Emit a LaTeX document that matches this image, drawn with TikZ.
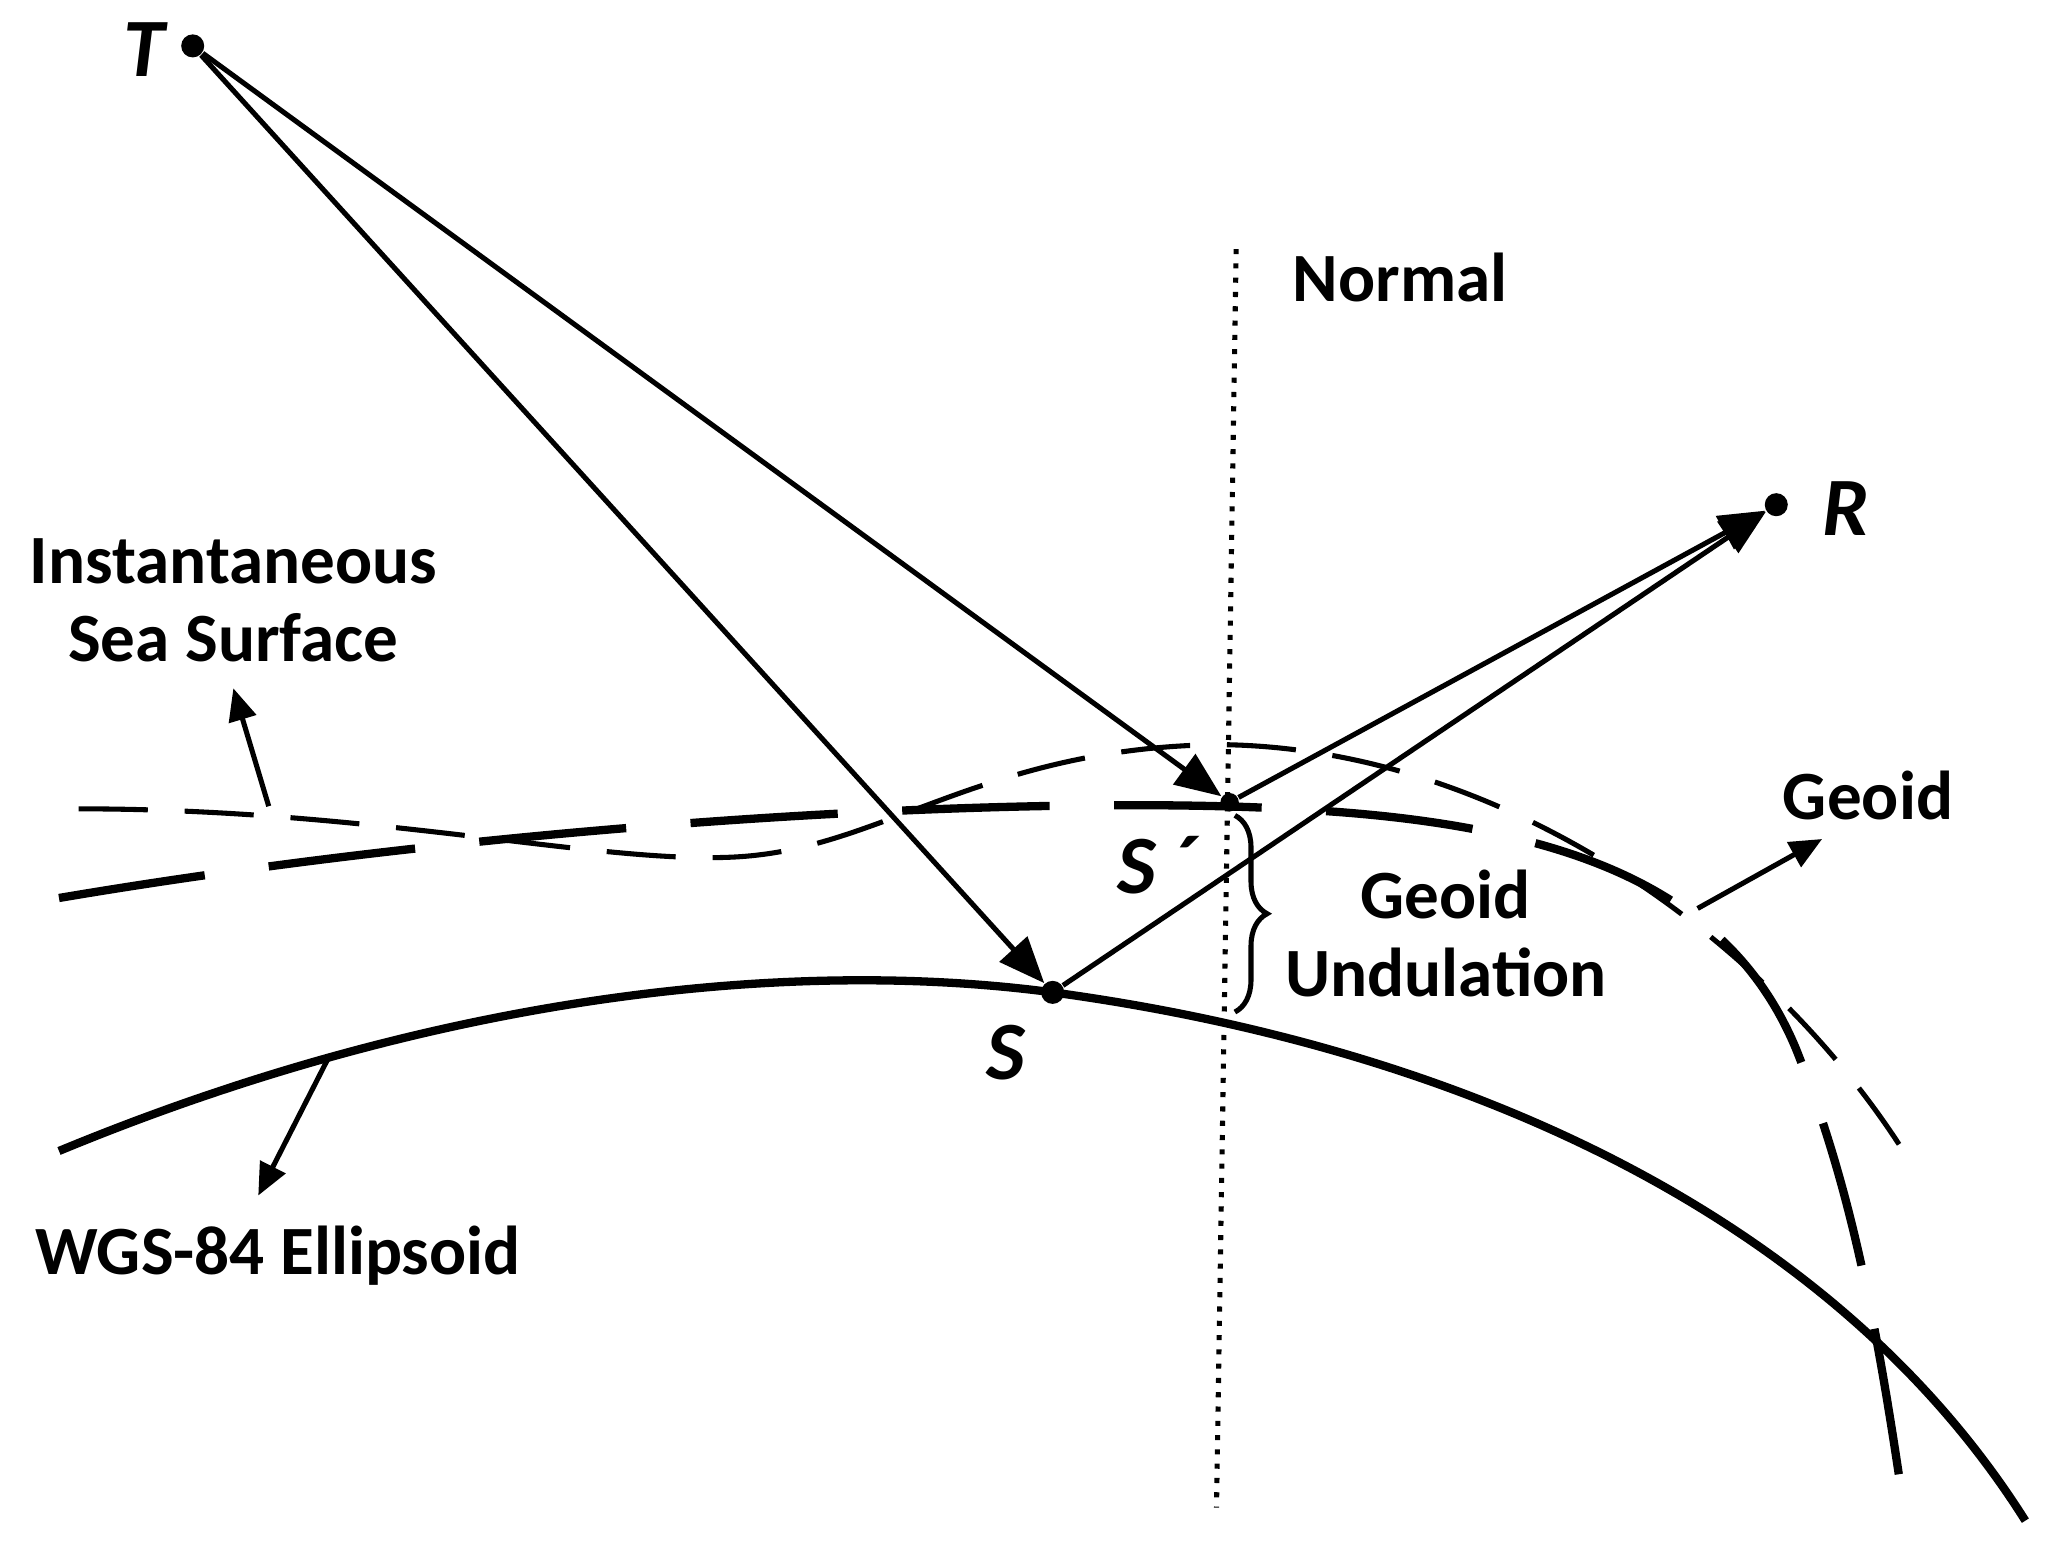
\documentclass[tikz,border=0pt]{standalone}
\usepackage{fontspec}
\setmainfont{Carlito}
\usetikzlibrary{arrows.meta,decorations.pathreplacing}
\begin{document}
\begin{tikzpicture}[x=0.01cm,y=-0.01cm,
  lbl/.style={font=\fontsize{15}{17}\selectfont\bfseries, align=center},
  pt/.style={font=\fontsize{18}{19}\selectfont\bfseries\itshape},
  arr/.style={line width=1.1pt,-{Triangle[length=10pt,width=8pt]}},
  sarr/.style={line width=1.1pt,-{Triangle[length=7pt,width=6pt]}},
  dot/.style={circle,fill,inner sep=0pt,minimum size=5pt}]
\useasboundingbox (0,0) rectangle (1560,1175);
\node[dot] (T) at (147,35) {};
\node[dot] (R) at (1355,385) {};
\node[dot] (S) at (803,757) {};
\node[dot,minimum size=4pt] (Sp) at (938,612) {};
\node[pt] at (110,38) {T};
\node[pt] at (1408,388) {R};
\node[pt] at (767,803) {S};
\node[pt] at (882,660) {S\,´};
% normal
\coordinate (n1) at (943,190); \coordinate (n2) at (928,1150);
\draw[line width=1.1pt,dotted] (n1) -- (n2);
\node[lbl] at (1068,212) {Normal};
% ellipsoid
\draw[line width=1.8pt] (45,878) .. controls (330,760) and (600,730) .. (803,757)
  .. controls (1120,800) and (1400,930) .. (1545,1160);
% sea surface
\draw[line width=1.1pt,dash pattern=on 15pt off 8pt] (60,617) .. controls (300,617) and (480,665) .. (580,652)
  .. controls (680,640) and (760,570) .. (930,568)
  .. controls (1150,570) and (1350,720) .. (1450,875);
% geoid
\draw[line width=1.8pt,dash pattern=on 32pt off 14pt] (45,685) .. controls (400,625) and (800,605) .. (1000,618)
  .. controls (1200,630) and (1320,680) .. (1370,800)
  .. controls (1410,900) and (1430,1000) .. (1450,1135);
% rays
\draw[arr] (T) -- (S);
\draw[arr] (T) -- (Sp);
\draw[arr] (S) -- (R);
\draw[arr] (Sp) -- (R);
% brace
\coordinate (b1) at (942,622); \coordinate (b2) at (942,772);
\draw[line width=1.1pt,decorate,decoration={brace,amplitude=7pt}] (b1) -- (b2);
\node[lbl] at (1103,712) {Geoid\\Undulation};
% labels
\node[lbl] (iss) at (178,458) {Instantaneous\\Sea Surface};
\coordinate (a1) at (205,615); \coordinate (a2) at (178,525);
\draw[sarr] (a1) -- (a2);
\node[lbl] at (1425,607) {Geoid};
\coordinate (g1) at (1295,693); \coordinate (g2) at (1390,640);
\draw[sarr] (g1) -- (g2);
\node[lbl] at (212,958) {WGS-84 Ellipsoid};
\coordinate (w1) at (250,808); \coordinate (w2) at (197,912);
\draw[sarr] (w1) -- (w2);
\end{tikzpicture}
\end{document}
